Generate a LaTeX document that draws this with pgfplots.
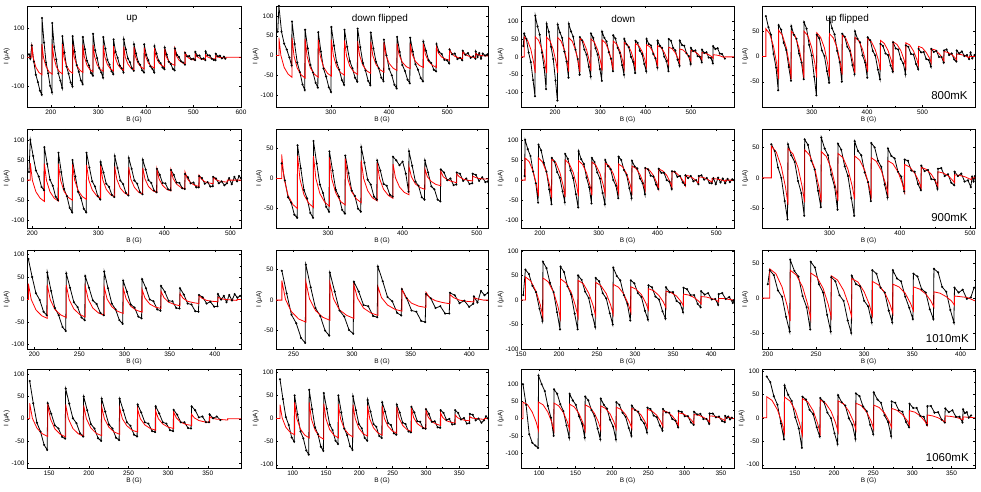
\documentclass[border=0pt]{standalone}
\usepackage{fontspec}
\setmainfont{Liberation Sans}
\usepackage{pgfplots}
\pgfplotsset{compat=1.18}
\pgfplotsset{
  panel/.style={scale only axis, anchor=north west,
    axis line style={line width=0.5pt},
    every tick/.style={black, line width=0.4pt},
    major tick length=2.2pt, minor tick length=1.3pt,
    minor x tick num=1, minor y tick num=1,
    tick label style={font=\fontsize{6.5}{7}\selectfont},
    label style={font=\fontsize{6.5}{7}\selectfont},
    xlabel={B (G)}, ylabel={I (μA)},
    xlabel style={yshift=4pt}, ylabel style={yshift=-5pt},
    /pgf/number format/assume math mode=true,
    /pgf/number format/1000 sep={},
    xticklabel style={yshift=1pt}, yticklabel style={xshift=1pt},
    scaled ticks=false},
  blk/.style={black, line width=0.8pt, mark=*, mark size=0.6pt},
  rd/.style={red, line width=0.8pt},
}
\begin{document}
\begin{tikzpicture}
\useasboundingbox (0,0) rectangle (981bp,492bp);
% ================= ROW 1 =================
\begin{axis}[panel, at={(27bp,486bp)}, width=214bp, height=101bp,
  xmin=150, xmax=600, ymin=-170, ymax=175, xtick={200,300,400,500,600}, ytick={-100,0,100}]
\addplot[blk] coordinates {(154,10)(157,-5)(160,40)(164.3,-15)(168.6,-60)(172.9,-85)(177.2,-114)(181,-128)
(181.5,134)(185.8,50)(190.1,-18)(194.4,-55)(198.7,-98)(202.5,-120)
(203,117)(207.3,35)(211.6,-8)(215.9,-55)(220.2,-80)(224,-105)
(224.5,72)(228.8,16)(233.1,-32)(237.4,-56)(241.7,-86)(245.5,-100)
(246,72)(250.3,19)(254.6,-27)(258.9,-50)(263.2,-79)(267,-92)
(267.5,69)(271.8,27)(276.1,-12)(280.4,-28)(284.7,-54)(288.5,-63)
(289,80)(293.3,24)(297.6,-3)(301.9,-37)(306.2,-52)(310,-70)
(310.5,69)(314.8,29)(319.1,-9)(323.4,-25)(327.7,-48)(331.5,-58)
(332,61)(336.3,18)(340.6,-2)(344.9,-28)(349.2,-38)(353,-52)
(353.5,61)(357.8,27)(362.1,-4)(366.4,-17)(370.7,-38)(374.5,-46)
(375,44)(379.3,13)(383.6,-15)(387.9,-26)(392.2,-45)(396,-52)
(396.5,44)(400.8,8)(405.1,-10)(409.4,-31)(413.7,-40)(417.5,-52)
(418,38)(422.3,13)(426.6,-11)(430.9,-20)(435.2,-35)(439,-41)
(439.5,33)(443.8,9)(448.1,-15)(452.4,-23)(456.7,-40)(460.5,-45)
(461,30)(465.3,8)(469.6,1)(473.9,-14)(478.2,-18)(482,-25)
(482.5,15)(486.8,3)(491.1,4)(495.4,-7)(499.7,-5)(503.5,-10)
(504,18)(508.3,5)(512.6,6)(516.9,-6)(521.2,-4)(525,-10)
(525.5,20)(529.8,7)(534.1,6)(538.4,-5)(542.7,-9)(546.5,-10)
(547,12)(551.3,3)(555.6,5)(559.9,-4)(564.2,2)(567,-5)};
\addplot[rd] coordinates {(150,0)(160,0)(160,45)(163.2,-2)(168.6,-34)(175,-52)(181.5,-60)(181.5,45)(184.7,-1)(190.1,-32)(196.5,-50)(203,-58)(203,45)(206.2,1)(211.6,-32)(218,-49)(224.5,-57)(224.5,45)(227.7,0)(233.1,-30)(239.5,-47)(246,-55)(246,44)(249.2,1)(254.6,-28)(261,-44)(267.5,-52)(267.5,43)(270.7,1)(276.1,-27)(282.5,-43)(289,-50)(289,42)(292.2,2)(297.6,-26)(304,-41)(310.5,-48)(310.5,40)(313.7,1)(319.1,-25)(325.5,-40)(332,-47)(332,38)(335.2,1)(340.6,-24)(347,-38)(353.5,-45)(353.5,36)(356.7,0)(362.1,-23)(368.5,-37)(375,-43)(375,35)(378.2,1)(383.6,-21)(390,-34)(396.5,-40)(396.5,33)(399.7,2)(405.1,-20)(411.5,-31)(418,-37)(418,31)(421.2,2)(426.6,-17)(433,-28)(439.5,-33)(439.5,29)(442.7,3)(448.1,-14)(454.5,-23)(461,-28)(461,27)(464.2,5)(469.6,-10)(476,-18)(482.5,-22)(482.5,15)(485.7,4)(491.1,-4)(497.5,-8)(504,-10)(504,10)(507.2,2)(512.6,-3)(519,-7)(525.5,-8)(525.5,8)(528.7,2)(534.1,-2)(540.5,-5)(547,-6)(547,5)(550.2,1)(555.6,-1)(562,-2)(568.5,-3)(568.5,0)(600,0)};
\node[font=\fontsize{10}{12}\selectfont] at (rel axis cs:0.49,0.87) {up};
\end{axis}
\begin{axis}[panel, at={(276bp,486bp)}, width=212bp, height=101bp,
  xmin=206, xmax=570, ymin=-130, ymax=125, xtick={300,400,500}, ytick={-100,-50,0,50,100}]
\addplot[blk] coordinates {(209,60)(211,125)(215.5,60)(220,30)(224.5,15)(229,-5)(232.8,-25)
(233.5,86)(238,29)(242.5,-18)(247,-42)(251.5,-73)(255.3,-87)
(256,65)(260.5,18)(265,-24)(269.5,-43)(274,-69)(277.8,-81)
(278.6,59)(283.1,10)(287.6,-33)(292.1,-53)(296.6,-80)(300.4,-92)
(301.1,72)(305.6,25)(310.1,-17)(314.6,-36)(319.1,-62)(322.9,-74)
(323.7,65)(328.2,22)(332.7,-14)(337.2,-32)(341.7,-56)(345.5,-66)
(346.2,68)(350.7,21)(355.2,-19)(359.7,-38)(364.2,-64)(368,-75)
(368.8,58)(373.3,18)(377.8,-16)(382.3,-32)(386.8,-56)(390.6,-65)
(391.3,40)(395.8,0)(400.3,-34)(404.8,-50)(409.3,-74)(413.1,-83)
(413.9,47)(418.4,9)(422.9,-24)(427.4,-39)(431.9,-61)(435.7,-70)
(436.4,45)(440.9,10)(445.4,-22)(449.9,-36)(454.4,-57)(458.2,-65)
(459,35)(463.5,12)(468,-12)(472.5,-19)(477,-36)(480.8,-40)
(481.5,29)(486,9)(490.5,4)(495,-11)(499.5,-12)(503.3,-20)
(504,15)(508.5,3)(513,5)(517.5,-9)(522,-6)(525.8,-12)
(526.6,12)(531.1,2)(535.6,6)(540.1,-6)(544.6,-2)(548.4,-8)
(549,10)(552,-4)(555,6)(558,-8)(561,5)(565,0)(569,3)};
\addplot[rd] coordinates {(206,0)(211,0)(211,45)(214.4,0)(220,-30)(226.8,-47)(233.5,-55)(233.5,45)(236.9,-1)(242.5,-32)(249.3,-49)(256,-57)(256,42)(259.4,-2)(265,-31)(271.8,-47)(278.6,-55)(278.6,40)(282,-1)(287.6,-29)(294.4,-45)(301.1,-52)(301.1,40)(304.5,0)(310.1,-28)(316.9,-43)(323.7,-50)(323.7,38)(327.1,-1)(332.7,-27)(339.5,-41)(346.2,-48)(346.2,36)(349.6,0)(355.2,-25)(362,-39)(368.8,-45)(368.8,35)(372.2,0)(377.8,-23)(384.6,-36)(391.3,-42)(391.3,33)(394.7,1)(400.3,-20)(407.1,-32)(413.9,-38)(413.9,30)(417.3,2)(422.9,-17)(429.7,-28)(436.4,-33)(436.4,30)(439.8,3)(445.4,-15)(452.2,-25)(459,-30)(459,30)(462.4,3)(468,-15)(474.8,-25)(481.5,-30)(481.5,21)(484.9,6)(490.5,-4)(497.3,-9)(504,-12)(504,15)(507.4,5)(513,-2)(519.8,-6)(526.6,-8)(526.6,10)(530,3)(535.6,-1)(542.4,-4)(549,-5)(549,5)(552.4,2)(558,0)(564.8,-1)(570,-1)};
\node[font=\fontsize{10}{12}\selectfont] at (rel axis cs:0.49,0.87) {down flipped};
\end{axis}
\begin{axis}[panel, at={(521bp,486bp)}, width=213bp, height=101bp,
  xmin=125, xmax=595, ymin=-140, ymax=142, xtick={200,300,400,500}, ytick={-100,-50,0,50,100}]
\addplot[blk] coordinates {(130,30)(132,65)(136.9,50)(141.8,12)(146.7,-15)(151.6,-65)(155.8,-110)
(156.5,115)(161.4,85)(166.3,62)(171.2,12)(176.1,-30)(180.3,-90)
(181.5,92)(186.4,70)(191.3,28)(196.2,-6)(201.1,-66)(205.3,-122)
(206,90)(210.9,68)(215.8,53)(220.7,15)(225.6,-13)(229.8,-58)
(230.5,92)(235.4,71)(240.3,56)(245.2,20)(250.1,-6)(254.3,-50)
(255,55)(259.9,46)(264.8,20)(269.7,6)(274.6,-28)(278.8,-55)
(279.5,65)(284.4,53)(289.3,24)(294.2,6)(299.1,-34)(303.3,-67)
(304,70)(308.9,53)(313.8,43)(318.7,13)(323.6,-5)(327.8,-40)
(328.5,60)(333.4,51)(338.3,25)(343.2,11)(348.1,-23)(352.3,-50)
(353,50)(357.9,35)(362.8,27)(367.7,0)(372.6,-14)(376.8,-45)
(377.5,45)(382.4,39)(387.3,17)(392.2,8)(397.1,-20)(401.3,-40)
(402,50)(406.9,36)(411.8,32)(416.7,8)(421.6,-4)(425.8,-30)
(426.5,45)(431.4,31)(436.3,25)(441.2,0)(446.1,-12)(450.3,-40)
(451,50)(455.9,45)(460.8,25)(465.7,18)(470.6,-8)(474.8,-25)
(475.5,45)(480.4,33)(485.3,31)(490.2,10)(495.1,2)(499.3,-20)
(500,25)(504.9,16)(509.8,18)(514.7,2)(519.6,0)(523.8,-15)
(524.5,20)(529.4,11)(534.3,13)(539.2,-2)(544.1,-3)(548.3,-18)
(549,30)(553.9,22)(558.8,24)(563.7,9)(568.6,8)(575,-5)};
\addplot[rd] coordinates {(125,0)(132,0)(132,56)(139.4,46)(146.7,21)(152.8,-15)(156.5,-45)(156.5,56)(163.9,46)(171.2,21)(177.3,-15)(181.5,-45)(181.5,55)(188.9,45)(196.2,20)(202.3,-15)(206,-45)(206,54)(213.4,44)(220.7,20)(226.8,-13)(230.5,-42)(230.5,53)(237.9,44)(245.2,20)(251.3,-14)(255,-42)(255,52)(262.4,43)(269.7,20)(275.8,-12)(279.5,-40)(279.5,50)(286.9,41)(294.2,19)(300.3,-12)(304,-38)(304,47)(311.4,39)(318.7,18)(324.8,-11)(328.5,-36)(328.5,44)(335.9,36)(343.2,17)(349.3,-10)(353,-33)(353,40)(360.4,33)(367.7,16)(373.8,-9)(377.5,-30)(377.5,37)(384.9,31)(392.2,15)(398.3,-8)(402,-27)(402,34)(409.4,28)(416.7,13)(422.8,-7)(426.5,-25)(426.5,31)(433.9,26)(441.2,12)(447.3,-6)(451,-22)(451,27)(458.4,23)(465.7,11)(471.8,-5)(475.5,-18)(475.5,22)(482.9,19)(490.2,10)(496.3,-2)(500,-12)(500,18)(507.4,15)(514.7,9)(520.8,0)(524.5,-8)(524.5,12)(531.9,10)(539.2,6)(545.3,1)(549,-4)(549,6)(556.4,5)(563.7,3)(569.8,0)(573.5,-2)(575,0)(595,0)};
\node[font=\fontsize{10}{12}\selectfont] at (rel axis cs:0.48,0.87) {down};
\end{axis}
\begin{axis}[panel, at={(762bp,486bp)}, width=213bp, height=101bp,
  xmin=210, xmax=595, ymin=-100, ymax=100, xtick={300,400,500}, ytick={-50,0,50}]
\addplot[blk] coordinates {(217,80)(221.6,58)(226.2,43)(230.8,5)(235.4,-22)(239.3,-67)
(240,62)(244.6,53)(249.2,27)(253.8,13)(258.4,-21)(262.3,-48)
(263,60)(267.6,43)(272.2,35)(276.8,6)(281.4,-12)(285.3,-45)
(286,68)(290.6,55)(295.2,23)(299.8,2)(304.4,-40)(308.3,-77)
(309,43)(313.6,36)(318.2,12)(322.8,1)(327.4,-29)(331.3,-52)
(332,75)(336.6,56)(341.2,44)(345.8,11)(350.4,-11)(354.3,-50)
(355,45)(359.6,39)(364.2,19)(368.8,11)(373.4,-17)(377.3,-35)
(378,50)(382.6,35)(387.2,28)(391.8,2)(396.4,-12)(400.3,-42)
(401,38)(405.6,32)(410.2,11)(414.8,2)(419.4,-26)(423.3,-45)
(424,25)(428.6,21)(433.2,6)(437.8,3)(442.4,-18)(446.3,-30)
(447,28)(451.6,16)(456.2,14)(460.8,-5)(465.4,-14)(469.3,-35)
(470,22)(474.6,19)(479.2,5)(483.8,4)(488.4,-15)(492.3,-25)
(493,15)(497.6,8)(502.2,9)(506.8,-5)(511.4,-7)(515.3,-20)
(516,15)(520.6,9)(525.2,11)(529.8,-1)(534.4,-1)(538.3,-12)
(539,12)(543.6,14)(548.2,3)(552.8,6)(557.4,-6)(561.3,-10)
(562,12)(566.6,6)(571.2,10)(575.8,1)(580.4,3)(584.3,-5)(587,8)(590,-4)(594,3)};
\addplot[rd] coordinates {(210,0)(217,0)(217,55)(223.9,45)(230.8,20)(236.6,-15)(240,-45)(240,52)(246.9,42)(253.8,18)(259.6,-16)(263,-45)(263,50)(269.9,41)(276.8,17)(282.6,-15)(286,-43)(286,50)(292.9,41)(299.8,18)(305.6,-14)(309,-42)(309,47)(315.9,38)(322.8,17)(328.6,-14)(332,-40)(332,45)(338.9,37)(345.8,17)(351.6,-12)(355,-36)(355,42)(361.9,35)(368.8,16)(374.6,-11)(378,-33)(378,38)(384.9,31)(391.8,14)(397.6,-10)(401,-30)(401,35)(407.9,29)(414.8,13)(420.6,-8)(424,-27)(424,32)(430.9,26)(437.8,12)(443.6,-7)(447,-24)(447,29)(453.9,24)(460.8,12)(466.6,-6)(470,-21)(470,27)(476.9,23)(483.8,11)(489.6,-5)(493,-18)(493,20)(499.9,17)(506.8,8)(512.6,-3)(516,-13)(516,15)(522.9,13)(529.8,6)(535.6,-2)(539,-10)(539,10)(545.9,8)(552.8,4)(558.6,-2)(562,-7)(562,5)(568.9,4)(575.8,2)(581.6,-1)(585,-3)(585,0)(595,0)};
\node[font=\fontsize{10}{12}\selectfont] at (rel axis cs:0.40,0.87) {up flipped};
\node[font=\fontsize{11.5}{13}\selectfont] at (rel axis cs:0.88,0.11) {800mK};
\end{axis}
% ================= ROW 2 =================
\begin{axis}[panel, at={(27bp,363bp)}, width=214bp, height=99bp,
  xmin=192, xmax=516, ymin=-119, ymax=127, xtick={200,300,400,500}, ytick={-100,-50,0,50,100}]
\addplot[blk] coordinates {(195,20)(197,100)(201.3,60)(205.5,24)(209.8,9)(214,-17)(217.7,-25)
(218.3,82)(222.6,40)(226.8,1)(231.1,-14)(235.3,-41)(239,-50)
(239.6,68)(243.9,20)(248.1,-22)(252.4,-40)(256.6,-69)(260.3,-80)
(260.9,50)(265.2,9)(269.4,-29)(273.7,-45)(277.9,-71)(281.6,-80)
(282.2,68)(286.5,31)(290.7,-3)(295,-16)(299.2,-40)(302.9,-48)
(303.5,45)(307.8,19)(312,-9)(316.3,-17)(320.5,-37)(324.2,-42)
(324.8,60)(329.1,30)(333.3,-1)(337.6,-10)(341.8,-32)(345.5,-38)
(346.1,55)(350.4,28)(354.6,-1)(358.9,-9)(363.1,-30)(366.8,-35)
(367.4,50)(371.7,26)(375.9,0)(380.2,-7)(384.4,-26)(388.1,-30)
(388.7,28)(393,13)(397.2,-7)(401.5,-8)(405.7,-23)(409.4,-25)
(410,25)(414.3,13)(418.5,-6)(422.8,-7)(427,-20)(430.7,-22)
(431.3,15)(435.6,7)(439.8,-8)(444.1,-6)(448.3,-18)(452,-18)
(452.6,10)(456.9,5)(461.1,-9)(465.4,-5)(469.6,-16)(473.3,-15)
(473.9,8)(478.2,4)(482.4,-8)(486.7,-3)(490.9,-13)(494.6,-8)(498,5)(502,-10)(506,8)(510,-3)(513,10)(516,5)};
\addplot[rd] coordinates {(192,0)(197,0)(197,42)(200.2,-1)(205.5,-29)(211.9,-45)(218.3,-53)(218.3,41)(221.5,-1)(226.8,-29)(233.2,-45)(239.6,-52)(239.6,40)(242.8,0)(248.1,-28)(254.5,-43)(260.9,-50)(260.9,39)(264.1,0)(269.4,-26)(275.8,-41)(282.2,-48)(282.2,38)(285.4,1)(290.7,-24)(297.1,-38)(303.5,-45)(303.5,36)(306.7,1)(312,-23)(318.4,-36)(324.8,-42)(324.8,34)(328,2)(333.3,-20)(339.7,-32)(346.1,-38)(346.1,32)(349.3,2)(354.6,-18)(361,-30)(367.4,-35)(367.4,30)(370.6,3)(375.9,-16)(382.3,-26)(388.7,-31)(388.7,28)(391.9,3)(397.2,-13)(403.6,-23)(410,-27)(410,25)(413.2,4)(418.5,-10)(424.9,-18)(431.3,-22)(431.3,20)(434.5,4)(439.8,-7)(446.2,-13)(452.6,-16)(452.6,12)(455.8,3)(461.1,-4)(467.5,-7)(473.9,-9)(473.9,8)(477.1,2)(482.4,-2)(488.8,-4)(495.2,-5)(495.2,0)(516,0)};
\end{axis}
\begin{axis}[panel, at={(276bp,363bp)}, width=212bp, height=99bp,
  xmin=230, xmax=515, ymin=-82, ymax=82, xtick={300,400,500}, ytick={-50,0,50}]
\addplot[blk] coordinates {(237.6,25)(241.9,-3)(246.2,-31)(250.4,-40)(254.7,-60)(258.4,-65)
(259,55)(263.3,17)(267.6,-19)(271.8,-33)(276.1,-57)(279.8,-65)
(280.4,62)(284.7,25)(289,-10)(293.2,-24)(297.5,-47)(301.2,-55)
(301.8,45)(306.1,13)(310.4,-19)(314.6,-30)(318.9,-52)(322.6,-58)
(323.2,38)(327.5,9)(331.8,-20)(336,-29)(340.3,-50)(344,-55)
(344.6,52)(348.9,26)(353.2,-2)(357.4,-10)(361.7,-30)(365.4,-35)
(366,30)(370.3,13)(374.6,-9)(378.8,-12)(383.1,-27)(386.8,-30)
(387.4,36)(391.7,30)(396,22)(400.2,28)(404.5,8)(408.2,-22)
(408.8,45)(413.1,21)(417.4,-5)(421.6,-12)(425.9,-31)(429.6,-35)
(430.2,30)(434.5,10)(438.8,-13)(443,-18)(447.3,-35)(451,-38)
(451.6,15)(455.9,10)(460.2,-3)(464.4,0)(468.7,-11)(472.4,-10)
(473,10)(477.3,8)(481.6,-4)(485.8,0)(490.1,-9)(493.8,-8)
(494.4,8)(498.7,6)(503,-4)(507.2,2)(511.5,-6)(514.5,-5)};
\addplot[rd] coordinates {(230,0)(237.6,0)(237.6,40)(240.8,0)(246.2,-28)(252.6,-43)(259,-50)(259,38)(262.2,-1)(267.6,-27)(274,-41)(280.4,-48)(280.4,37)(283.6,0)(289,-25)(295.4,-39)(301.8,-46)(301.8,35)(305,-1)(310.4,-24)(316.8,-38)(323.2,-44)(323.2,33)(326.4,0)(331.8,-22)(338.2,-34)(344.6,-40)(344.6,30)(347.8,0)(353.2,-20)(359.6,-32)(366,-37)(366,26)(369.2,0)(374.6,-18)(381,-28)(387.4,-33)(387.4,24)(390.6,1)(396,-14)(402.4,-23)(408.8,-27)(408.8,20)(412,3)(417.4,-9)(423.8,-15)(430.2,-18)(430.2,16)(433.4,3)(438.8,-5)(445.2,-10)(451.6,-12)(451.6,12)(454.8,3)(460.2,-2)(466.6,-5)(473,-7)(473,8)(476.2,3)(481.6,-1)(488,-3)(494.4,-4)(494.4,4)(497.6,2)(503,0)(509.4,-1)(515,-1)};
\end{axis}
\begin{axis}[panel, at={(521bp,363bp)}, width=213bp, height=99bp,
  xmin=168, xmax=530, ymin=-119, ymax=127, xtick={200,300,400,500}, ytick={-100,-50,0,50,100}]
\addplot[blk] coordinates {(174,10)(175,100)(179.5,77)(184.1,60)(188.6,21)(193.2,-8)(197,-56)
(197.7,88)(202.2,74)(206.8,43)(211.3,21)(215.9,-23)(219.7,-60)
(220.4,55)(224.9,46)(229.5,20)(234,6)(238.6,-28)(242.4,-55)
(243.1,65)(247.6,53)(252.2,24)(256.7,5)(261.3,-35)(265.1,-68)
(265.8,72)(270.3,52)(274.9,40)(279.4,6)(284,-18)(287.8,-58)
(288.5,55)(293,45)(297.6,19)(302.1,4)(306.7,-32)(310.5,-60)
(311.2,50)(315.7,35)(320.3,27)(324.8,0)(329.4,-14)(333.2,-45)
(333.9,58)(338.4,50)(343,25)(347.5,13)(352.1,-20)(355.9,-45)
(356.6,48)(361.1,34)(365.7,29)(370.2,4)(374.8,-8)(378.6,-35)
(379.3,30)(383.8,27)(388.4,11)(392.9,9)(397.5,-11)(401.3,-22)
(402,28)(406.5,18)(411.1,18)(415.6,0)(420.2,-4)(424,-22)
(424.7,22)(429.2,21)(433.8,8)(438.3,10)(442.9,-6)(446.7,-12)
(447.4,12)(451.9,5)(456.5,10)(461,-3)(465.6,0)(469.4,-10)
(470.1,10)(474.6,12)(479.2,1)(483.7,5)(488.3,-7)(492.1,-8)(495,5)(499,-10)(503,6)(507,-6)(511,4)(515,-8)(519,3)(523,-5)(527,2)(530,0)};
\addplot[rd] coordinates {(168,0)(175,0)(175,55)(181.8,46)(188.6,22)(194.3,-12)(197.7,-40)(197.7,55)(204.5,45)(211.3,20)(217,-15)(220.4,-45)(220.4,52)(227.2,43)(234,19)(239.7,-14)(243.1,-42)(243.1,50)(249.9,41)(256.7,19)(262.4,-13)(265.8,-40)(265.8,48)(272.6,39)(279.4,18)(285.1,-12)(288.5,-38)(288.5,45)(295.3,37)(302.1,17)(307.8,-12)(311.2,-36)(311.2,42)(318,35)(324.8,16)(330.5,-10)(333.9,-32)(333.9,40)(340.7,33)(347.5,16)(353.2,-9)(356.6,-30)(356.6,35)(363.4,29)(370.2,14)(375.9,-7)(379.3,-25)(379.3,30)(386.1,25)(392.9,12)(398.6,-6)(402,-22)(402,28)(408.8,23)(415.6,12)(421.3,-4)(424.7,-18)(424.7,22)(431.5,18)(438.3,9)(444,-3)(447.4,-14)(447.4,12)(454.2,10)(461,4)(466.7,-3)(470.1,-10)(470.1,8)(476.9,7)(483.7,3)(489.4,-2)(492.8,-6)(492.8,4)(499.6,3)(506.4,1)(512.1,-1)(515.5,-3)(515.5,0)(530,0)};
\end{axis}
\begin{axis}[panel, at={(762bp,363bp)}, width=213bp, height=99bp,
  xmin=204, xmax=507, ymin=-82, ymax=80, xtick={300,400,500}, ytick={-50,0,50}]
\addplot[blk] coordinates {(217.3,55)(222,44)(226.8,17)(231.5,0)(236.3,-38)(240.3,-68)
(241,55)(245.7,37)(250.5,26)(255.2,-5)(260,-25)(264,-62)
(264.7,63)(269.4,54)(274.2,28)(278.9,14)(283.7,-21)(287.7,-48)
(288.4,66)(293.1,48)(297.9,37)(302.6,5)(307.4,-15)(311.4,-52)
(312.1,56)(316.8,46)(321.6,19)(326.3,3)(331.1,-33)(335.1,-62)
(335.8,60)(340.5,44)(345.3,37)(350,9)(354.8,-7)(358.8,-38)
(359.5,57)(364.2,50)(369,28)(373.7,18)(378.5,-11)(382.5,-32)
(383.2,48)(387.9,36)(392.7,32)(397.4,10)(402.2,2)(406.2,-22)
(406.9,30)(411.6,28)(416.4,12)(421.1,10)(425.9,-10)(429.9,-20)
(430.6,20)(435.3,11)(440.1,13)(444.8,-2)(449.6,-3)(453.6,-18)
(454.3,15)(459,16)(463.8,3)(468.5,6)(473.3,-8)(477.3,-12)
(478,10)(482.7,3)(487.5,7)(492.2,-6)(497,-4)(501,-15)(503,2)(505,-6)(507,3)};
\addplot[rd] coordinates {(204,0)(217.3,0)(217.3,52)(224.4,42)(231.5,18)(237.4,-15)(241,-44)(241,48)(248.1,39)(255.2,17)(261.1,-14)(264.7,-40)(264.7,46)(271.8,37)(278.9,16)(284.8,-14)(288.4,-40)(288.4,43)(295.5,35)(302.6,15)(308.5,-14)(312.1,-38)(312.1,40)(319.2,33)(326.3,14)(332.2,-13)(335.8,-35)(335.8,36)(342.9,29)(350,13)(355.9,-11)(359.5,-31)(359.5,33)(366.6,27)(373.7,12)(379.6,-9)(383.2,-27)(383.2,28)(390.3,23)(397.4,10)(403.3,-8)(406.9,-23)(406.9,22)(414,18)(421.1,8)(427,-5)(430.6,-17)(430.6,17)(437.7,14)(444.8,6)(450.7,-5)(454.3,-14)(454.3,10)(461.4,8)(468.5,4)(474.4,-3)(478,-8)(478,5)(485.1,4)(492.2,2)(498.1,-1)(501.7,-3)(501.7,0)(507,0)};
\node[font=\fontsize{11.5}{13}\selectfont] at (rel axis cs:0.88,0.11) {900mK};
\end{axis}
% ================= ROW 3 =================
\begin{axis}[panel, at={(27bp,242bp)}, width=214bp, height=99bp,
  xmin=192, xmax=429, ymin=-110, ymax=110, xtick={200,250,300,350,400}, ytick={-100,-50,0,50,100}]
\addplot[blk] coordinates {(193.5,90)(197.7,50)(201.9,14)(206.1,-1)(210.3,-27)(213.9,-35)
(214.5,60)(218.7,19)(222.9,-19)(227.1,-35)(231.3,-61)(234.9,-70)
(235.5,58)(239.7,26)(243.9,-6)(248.1,-17)(252.3,-40)(255.9,-46)
(256.5,52)(260.7,26)(264.9,-2)(269.1,-10)(273.3,-30)(276.9,-35)
(277.5,62)(281.7,25)(285.9,-9)(290.1,-22)(294.3,-46)(297.9,-54)
(298.5,42)(302.7,17)(306.9,-11)(311.1,-18)(315.3,-38)(318.9,-42)
(319.5,45)(323.7,25)(327.9,0)(332.1,-4)(336.3,-22)(339.9,-25)
(340.5,30)(344.7,17)(348.9,-3)(353.1,-4)(357.3,-19)(360.9,-20)
(361.5,25)(365.7,11)(369.9,-9)(374.1,-11)(378.3,-26)(381.9,-27)
(382.5,10)(386.7,5)(390.9,-9)(395.1,-5)(399.3,-16)(402.9,-15)
(403.5,12)(407,0)(410,8)(413,-6)(416,10)(419,-2)(422,12)(425,4)(428,8)};
\addplot[rd] coordinates {(192,0)(193.5,0)(193.5,35)(196.7,0)(201.9,-23)(208.2,-36)(214.5,-42)(214.5,33)(217.7,0)(222.9,-22)(229.2,-34)(235.5,-40)(235.5,32)(238.7,0)(243.9,-21)(250.2,-33)(256.5,-39)(256.5,30)(259.7,1)(264.9,-19)(271.2,-30)(277.5,-35)(277.5,28)(280.7,1)(285.9,-16)(292.2,-26)(298.5,-31)(298.5,26)(301.7,2)(306.9,-15)(313.2,-24)(319.5,-28)(319.5,22)(322.7,3)(327.9,-10)(334.2,-17)(340.5,-20)(340.5,18)(343.7,4)(348.9,-6)(355.2,-11)(361.5,-14)(361.5,13)(364.7,3)(369.9,-4)(376.2,-7)(382.5,-9)(382.5,9)(385.7,3)(390.9,-2)(397.2,-4)(403.5,-5)(403.5,5)(406.7,2)(411.9,0)(418.2,-1)(424.5,-2)(424.5,0)(429,0)};
\end{axis}
\begin{axis}[panel, at={(276bp,242bp)}, width=212bp, height=99bp,
  xmin=235, xmax=416, ymin=-80, ymax=82, xtick={250,300,350,400}, ytick={-50,0,50}]
\addplot[blk] coordinates {(240,48)(244.1,11)(248.2,-24)(252.3,-38)(256.4,-62)(259.9,-70)
(260.5,58)(264.6,21)(268.7,-13)(272.8,-26)(276.9,-50)(280.4,-58)
(281,45)(285.1,14)(289.2,-17)(293.3,-27)(297.4,-49)(300.9,-55)
(301.5,30)(305.6,14)(309.7,-8)(313.8,-10)(317.9,-26)(321.4,-28)
(322,55)(326.1,31)(330.2,5)(334.3,-2)(338.4,-21)(341.9,-25)
(342.5,18)(346.6,3)(350.7,-17)(354.8,-19)(358.9,-34)(362.4,-36)
(363,10)(367.1,3)(371.2,-13)(375.3,-10)(379.4,-22)(382.9,-22)
(383.5,12)(387.6,8)(391.7,-5)(395.8,-1)(399.9,-11)(403.4,-6)
(404,6)(407,-4)(410,15)(413,8)(416,12)};
\addplot[rd] coordinates {(235,0)(240,0)(240,32)(243.1,1)(248.2,-19)(254.4,-31)(260.5,-36)(260.5,30)(263.6,2)(268.7,-17)(274.9,-28)(281,-33)(281,28)(284.1,2)(289.2,-16)(295.4,-25)(301.5,-30)(301.5,25)(304.6,3)(309.7,-13)(315.9,-21)(322,-25)(322,22)(325.1,4)(330.2,-8)(336.4,-15)(342.5,-18)(342.5,18)(345.6,5)(350.7,-5)(356.9,-10)(363,-12)(363,13)(366.1,4)(371.2,-1)(377.4,-4)(383.5,-6)(383.5,9)(386.6,4)(391.7,0)(397.9,-2)(404,-3)(404,4)(407.1,2)(412.2,0)(416,0)};
\end{axis}
\begin{axis}[panel, at={(521bp,242bp)}, width=213bp, height=99bp,
  xmin=150, xmax=430, ymin=-100, ymax=102, xtick={150,200,250,300,350,400}, ytick={-100,-50,0,50,100}]
\addplot[blk] coordinates {(153,10)(155.8,62)(160.4,53)(165,29)(169.7,16)(174.3,-18)(178.2,-43)
(178.9,78)(183.5,65)(188.1,35)(192.8,16)(197.4,-25)(201.3,-60)
(202,68)(206.6,57)(211.2,28)(215.9,11)(220.5,-28)(224.4,-60)
(225.1,50)(229.7,41)(234.3,17)(239,4)(243.6,-30)(247.5,-55)
(248.2,45)(252.8,38)(257.4,14)(262.1,3)(266.7,-27)(270.6,-50)
(271.3,66)(275.9,49)(280.5,40)(285.2,10)(289.8,-8)(293.7,-42)
(294.4,40)(299,34)(303.6,14)(308.3,6)(312.9,-22)(316.8,-40)
(317.5,30)(322.1,26)(326.7,7)(331.4,1)(336,-23)(339.9,-38)
(340.6,26)(345.2,16)(349.8,16)(354.5,-2)(359.1,-7)(363,-25)
(363.7,25)(368.3,22)(372.9,10)(377.6,10)(382.2,-8)(386.1,-15)
(386.8,18)(391.4,11)(396,14)(400.7,1)(405.3,2)(409.2,-10)
(409.9,12)(414.5,14)(419.1,2)(423.8,6)(428.4,-6)(430,0)};
\addplot[rd] coordinates {(150,0)(155.8,0)(155.8,47)(162.7,39)(169.7,18)(175.4,-10)(178.9,-35)(178.9,45)(185.8,37)(192.8,16)(198.5,-13)(202,-38)(202,43)(208.9,35)(215.9,16)(221.6,-12)(225.1,-35)(225.1,40)(232,33)(239,14)(244.7,-11)(248.2,-33)(248.2,36)(255.1,29)(262.1,13)(267.8,-10)(271.3,-30)(271.3,32)(278.2,26)(285.2,12)(290.9,-8)(294.4,-25)(294.4,27)(301.3,22)(308.3,11)(314,-6)(317.5,-20)(317.5,23)(324.4,19)(331.4,9)(337.1,-4)(340.6,-16)(340.6,18)(347.5,15)(354.5,8)(360.2,-3)(363.7,-12)(363.7,12)(370.6,10)(377.6,5)(383.3,-2)(386.8,-8)(386.8,7)(393.7,6)(400.7,3)(406.4,0)(409.9,-4)(409.9,3)(416.8,3)(423.8,1)(430,0)};
\end{axis}
\begin{axis}[panel, at={(762bp,242bp)}, width=213bp, height=99bp,
  xmin=194, xmax=415, ymin=-73, ymax=69, xtick={200,250,300,350,400}, ytick={-50,0,50}]
\addplot[blk] coordinates {(200,20)(202,40)(206.3,33)(210.5,11)(214.8,2)(219,-27)(222.7,-48)
(223.3,55)(227.6,39)(231.8,31)(236.1,3)(240.3,-13)(244,-45)
(244.6,52)(248.9,44)(253.1,20)(257.4,8)(261.6,-24)(265.3,-48)
(265.9,30)(270.2,24)(274.4,4)(278.7,-4)(282.9,-32)(286.6,-50)
(287.2,32)(291.5,20)(295.7,17)(300,-4)(304.2,-12)(307.9,-35)
(308.5,40)(312.8,35)(317,15)(321.3,8)(325.5,-18)(329.2,-35)
(329.8,40)(334.1,28)(338.3,24)(342.6,2)(346.8,-14)(350.5,-30)
(351.1,35)(355.4,31)(359.6,13)(363.9,8)(368.1,-16)(371.8,-30)
(372.4,42)(376.7,37)(380.9,16)(385.2,9)(389.4,-17)(393.1,-35)
(393.7,15)(398,8)(402.2,12)(406.5,-1)(410.7,1)(414,15)};
\addplot[rd] coordinates {(194,0)(202,0)(202,42)(208.4,35)(214.8,16)(220.1,-11)(223.3,-33)(223.3,40)(229.7,33)(236.1,16)(241.4,-9)(244.6,-30)(244.6,36)(251,30)(257.4,14)(262.7,-9)(265.9,-28)(265.9,32)(272.3,26)(278.7,11)(284,-10)(287.2,-28)(287.2,28)(293.6,23)(300,9)(305.3,-9)(308.5,-25)(308.5,24)(314.9,19)(321.3,8)(326.6,-8)(329.8,-22)(329.8,20)(336.2,16)(342.6,7)(347.9,-7)(351.1,-18)(351.1,16)(357.5,13)(363.9,6)(369.2,-4)(372.4,-13)(372.4,9)(378.8,7)(385.2,2)(390.5,-4)(393.7,-10)(393.7,3)(400.1,2)(406.5,1)(411.8,-2)(415,-4)};
\node[font=\fontsize{11.5}{13}\selectfont] at (rel axis cs:0.87,0.11) {1010mK};
\end{axis}
% ================= ROW 4 =================
\begin{axis}[panel, at={(27bp,123bp)}, width=214bp, height=99bp,
  xmin=122, xmax=392, ymin=-111, ymax=112, xtick={150,200,250,300,350}, ytick={-100,-50,0,50,100}]
\addplot[blk] coordinates {(125.4,85)(129.9,35)(134.5,-9)(139,-29)(143.6,-59)(147.4,-70)
(148.1,35)(152.6,11)(157.2,-15)(161.7,-22)(166.3,-41)(170.1,-45)
(170.8,68)(175.3,34)(179.9,1)(184.4,-10)(189,-33)(192.8,-40)
(193.5,50)(198,19)(202.6,-12)(207.1,-22)(211.7,-44)(215.5,-50)
(216.2,45)(220.7,16)(225.3,-13)(229.8,-22)(234.4,-43)(238.2,-48)
(238.9,45)(243.4,19)(248,-8)(252.5,-16)(257.1,-36)(260.9,-40)
(261.6,32)(266.1,14)(270.7,-8)(275.2,-11)(279.8,-28)(283.6,-30)
(284.3,28)(288.8,12)(293.4,-8)(297.9,-11)(302.5,-26)(306.3,-28)
(307,20)(311.5,9)(316.1,-8)(320.6,-8)(325.2,-21)(329,-22)
(329.7,28)(334.2,19)(338.8,3)(343.3,5)(347.9,-8)(351.7,-8)
(352.4,10)(356.9,1)(361.5,5)(366,-3)};
\addplot[rd] coordinates {(122,0)(125.4,0)(125.4,35)(128.8,1)(134.5,-21)(141.3,-34)(148.1,-40)(148.1,33)(151.5,0)(157.2,-23)(164,-35)(170.8,-41)(170.8,32)(174.2,0)(179.9,-22)(186.7,-34)(193.5,-40)(193.5,30)(196.9,0)(202.6,-21)(209.4,-33)(216.2,-38)(216.2,28)(219.6,0)(225.3,-19)(232.1,-30)(238.9,-35)(238.9,25)(242.3,0)(248,-16)(254.8,-26)(261.6,-30)(261.6,22)(265,0)(270.7,-14)(277.5,-22)(284.3,-26)(284.3,18)(287.7,0)(293.4,-12)(300.2,-19)(307,-22)(307,15)(310.4,2)(316.1,-8)(322.9,-13)(329.7,-15)(329.7,10)(333.1,2)(338.8,-4)(345.6,-7)(352.4,-8)(352.4,5)(355.8,1)(361.5,-1)(368.3,-2)(375.1,-3)(375.1,0)(392,0)};
\end{axis}
\begin{axis}[panel, at={(276bp,123bp)}, width=212bp, height=99bp,
  xmin=75, xmax=393, ymin=-107, ymax=107, xtick={100,150,200,250,300,350}, ytick={-100,-50,0,50,100}]
\addplot[blk] coordinates {(81,85)(85.4,42)(89.8,3)(94.1,-14)(98.5,-41)(102.2,-50)
(102.9,50)(107.3,9)(111.7,-28)(116,-43)(120.4,-69)(124.1,-78)
(124.8,62)(129.2,20)(133.6,-19)(137.9,-34)(142.3,-61)(146,-70)
(146.7,55)(151.1,21)(155.5,-13)(159.8,-25)(164.2,-48)(167.9,-55)
(168.6,50)(173,13)(177.4,-22)(181.7,-36)(186.1,-60)(189.8,-68)
(190.5,48)(194.9,18)(199.3,-12)(203.6,-21)(208,-42)(211.7,-48)
(212.4,40)(216.8,15)(221.2,-12)(225.5,-18)(229.9,-38)(233.6,-42)
(234.3,35)(238.7,15)(243.1,-10)(247.4,-14)(251.8,-32)(255.5,-35)
(256.2,30)(260.6,13)(265,-9)(269.3,-12)(273.7,-28)(277.4,-30)
(278.1,25)(282.5,13)(286.9,-6)(291.2,-7)(295.6,-21)(299.3,-22)
(300,20)(304.4,10)(308.8,-7)(313.1,-6)(317.5,-19)(321.2,-20)
(321.9,18)(326.3,12)(330.7,-3)(335,-1)(339.4,-13)(343.1,-12)
(343.8,18)(348.2,12)(352.6,-2)(356.9,1)(361.3,-11)(365,-10)
(365.7,10)(370.1,8)(374.5,-4)(378.8,0)(383.2,-9)(386.9,-4)(390,5)(393,0)};
\addplot[rd] coordinates {(75,0)(81,0)(81,30)(84.3,1)(89.8,-19)(96.3,-30)(102.9,-35)(102.9,35)(106.2,0)(111.7,-23)(118.2,-36)(124.8,-42)(124.8,35)(128.1,-1)(133.6,-25)(140.1,-39)(146.7,-45)(146.7,32)(150,-1)(155.5,-24)(162,-36)(168.6,-42)(168.6,31)(171.9,-1)(177.4,-22)(183.9,-34)(190.5,-40)(190.5,30)(193.8,0)(199.3,-21)(205.8,-33)(212.4,-38)(212.4,28)(215.7,-1)(221.2,-20)(227.7,-31)(234.3,-36)(234.3,27)(237.6,0)(243.1,-17)(249.6,-27)(256.2,-32)(256.2,25)(259.5,1)(265,-15)(271.5,-24)(278.1,-28)(278.1,22)(281.4,2)(286.9,-11)(293.4,-18)(300,-22)(300,18)(303.3,3)(308.8,-7)(315.3,-12)(321.9,-15)(321.9,12)(325.2,2)(330.7,-5)(337.2,-8)(343.8,-10)(343.8,8)(347.1,2)(352.6,-2)(359.1,-4)(365.7,-5)(365.7,4)(369,1)(374.5,0)(381,-1)(387.6,-2)(387.6,0)(393,0)};
\end{axis}
\begin{axis}[panel, at={(521bp,123bp)}, width=213bp, height=99bp,
  xmin=75, xmax=368, ymin=-143, ymax=144, xtick={100,150,200,250,300,350}, ytick={-100,-50,0,50,100}]
\addplot[blk] coordinates {(77.7,100)(82,40)(86.3,-45)(90.5,-70)(94.8,-78)(98.5,-85)
(99.1,125)(103.4,100)(107.7,80)(111.9,37)(116.2,3)(119.9,-50)
(120.5,85)(124.8,72)(129.1,42)(133.3,22)(137.6,-20)(141.3,-55)
(141.9,72)(146.2,53)(150.5,40)(154.7,7)(159,-15)(162.7,-55)
(163.3,64)(167.6,53)(171.9,25)(176.1,8)(180.4,-29)(184.1,-60)
(184.7,58)(189,40)(193.3,29)(197.5,-3)(201.8,-23)(205.5,-60)
(206.1,48)(210.4,40)(214.7,17)(218.9,5)(223.2,-27)(226.9,-50)
(227.5,38)(231.8,25)(236.1,20)(240.3,-3)(244.6,-14)(248.3,-40)
(248.9,32)(253.2,28)(257.5,9)(261.7,4)(266,-20)(269.7,-35)
(270.3,28)(274.6,18)(278.9,17)(283.1,-1)(287.4,-6)(291.1,-25)
(291.7,22)(296,20)(300.3,7)(304.5,7)(308.8,-11)(312.5,-18)
(313.1,20)(317.4,12)(321.7,14)(325.9,-1)(330.2,-1)(333.9,-15)
(334.5,15)(338.8,15)(343.1,4)(347.3,6)(351.6,-7)(355.3,-10)
(355.9,8)(358,2)(360,6)(362.5,-2)(365,3)};
\addplot[rd] coordinates {(75,0)(77.7,0)(77.7,48)(84.1,40)(90.5,19)(95.9,-10)(99.1,-35)(99.1,48)(105.5,40)(111.9,19)(117.3,-10)(120.5,-35)(120.5,45)(126.9,37)(133.3,18)(138.7,-9)(141.9,-32)(141.9,42)(148.3,34)(154.7,15)(160.1,-12)(163.3,-35)(163.3,40)(169.7,33)(176.1,15)(181.5,-10)(184.7,-32)(184.7,37)(191.1,30)(197.5,14)(202.9,-10)(206.1,-30)(206.1,33)(212.5,27)(218.9,12)(224.3,-10)(227.5,-28)(227.5,30)(233.9,24)(240.3,10)(245.7,-9)(248.9,-26)(248.9,27)(255.3,22)(261.7,10)(267.1,-8)(270.3,-23)(270.3,23)(276.7,19)(283.1,8)(288.5,-7)(291.7,-20)(291.7,17)(298.1,14)(304.5,6)(309.9,-5)(313.1,-15)(313.1,12)(319.5,10)(325.9,4)(331.3,-3)(334.5,-10)(334.5,8)(340.9,7)(347.3,3)(352.7,-2)(355.9,-6)(355.9,4)(362.3,3)(368,0)};
\end{axis}
\begin{axis}[panel, at={(762bp,123bp)}, width=213bp, height=99bp,
  xmin=108, xmax=380, ymin=-107, ymax=104, xtick={150,200,250,300,350}, ytick={-100,-50,0,50,100}]
\addplot[blk] coordinates {(114,88)(118.6,76)(123.1,46)(127.7,28)(132.2,-12)(136.1,-46)
(136.8,69)(141.4,49)(145.9,36)(150.5,1)(155,-23)(158.9,-64)
(159.6,45)(164.2,39)(168.7,17)(173.3,8)(177.8,-20)(181.7,-40)
(182.4,42)(187,34)(191.5,11)(196.1,-1)(200.6,-33)(204.5,-56)
(205.2,48)(209.8,33)(214.3,26)(218.9,-1)(223.4,-15)(227.3,-45)
(228,52)(232.6,46)(237.1,24)(241.7,14)(246.2,-15)(250.1,-35)
(250.8,54)(255.4,39)(259.9,32)(264.5,5)(269,-9)(272.9,-39)
(273.6,35)(278.2,32)(282.7,16)(287.3,13)(291.8,-9)(295.7,-20)
(296.4,30)(301,21)(305.5,21)(310.1,4)(314.6,2)(318.5,-15)
(319.2,25)(323.8,25)(328.3,11)(332.9,12)(337.4,-4)(341.3,-10)
(342,20)(346.6,12)(351.1,16)(355.7,2)(360.2,2)(364.1,-10)
(364.8,18)(367,10)(369.5,12)(372,0)(375,5)};
\addplot[rd] coordinates {(108,0)(114,0)(114,45)(120.8,37)(127.7,17)(133.4,-10)(136.8,-34)(136.8,44)(143.6,36)(150.5,16)(156.2,-13)(159.6,-37)(159.6,41)(166.4,34)(173.3,15)(179,-12)(182.4,-34)(182.4,38)(189.2,31)(196.1,14)(201.8,-10)(205.2,-30)(205.2,36)(212,30)(218.9,14)(224.6,-7)(228,-26)(228,31)(234.8,26)(241.7,12)(247.4,-7)(250.8,-24)(250.8,27)(257.6,22)(264.5,10)(270.2,-7)(273.6,-21)(273.6,20)(280.4,16)(287.3,7)(293,-5)(296.4,-16)(296.4,15)(303.2,12)(310.1,4)(315.8,-7)(319.2,-16)(319.2,6)(326,4)(332.9,0)(338.6,-5)(342,-10)(342,4)(348.8,3)(355.7,1)(361.4,-2)(364.8,-4)(364.8,2)(371.6,1)(380,0)};
\node[font=\fontsize{11.5}{13}\selectfont] at (rel axis cs:0.87,0.11) {1060mK};
\end{axis}
\end{tikzpicture}
\end{document}
